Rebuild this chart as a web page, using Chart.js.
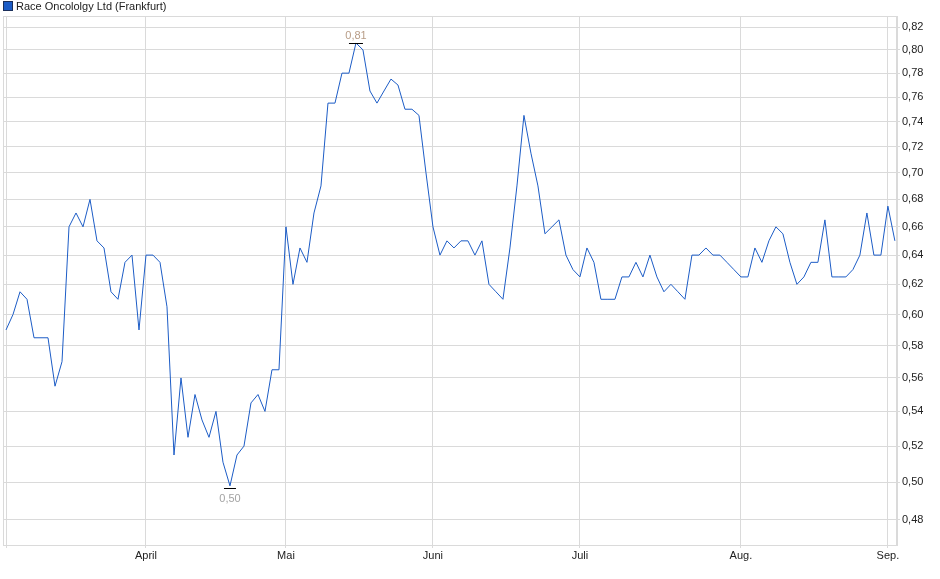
<!DOCTYPE html>
<html>
<head>
<meta charset="utf-8">
<script src="https://cdn.jsdelivr.net/npm/chart.js@4.4.1/dist/chart.umd.min.js"></script>
<style>
    html, body { margin: 0; padding: 0; background: #fff; }
    #wrap { position: relative; width: 940px; height: 579px; }
</style>
</head>
<body>
<div id="wrap"><canvas id="chart"></canvas></div>
<script>
// daily closes, one per trading day (index 0 = first day shown)
const prices = [
    0.590, 0.600, 0.615, 0.610, 0.585, 0.585, 0.585, 0.555, 0.570, 0.660,
    0.670, 0.660, 0.680, 0.650, 0.645, 0.615, 0.610, 0.635, 0.640, 0.590,
    0.640, 0.640, 0.635, 0.605, 0.515, 0.560, 0.525, 0.550, 0.535, 0.525,
    0.540, 0.511, 0.498, 0.515, 0.520, 0.545, 0.550, 0.540, 0.565, 0.565,
    0.660, 0.620, 0.645, 0.635, 0.670, 0.690, 0.755, 0.755, 0.780, 0.780,
    0.806, 0.800, 0.765, 0.755, 0.765, 0.775, 0.770, 0.750, 0.750, 0.745,
    0.700, 0.660, 0.640, 0.650, 0.645, 0.650, 0.650, 0.640, 0.650, 0.620,
    0.615, 0.610, 0.645, 0.690, 0.745, 0.715, 0.690, 0.655, 0.660, 0.665,
    0.640, 0.630, 0.625, 0.645, 0.635, 0.610, 0.610, 0.610, 0.625, 0.625,
    0.635, 0.625, 0.640, 0.625, 0.615, 0.620, 0.615, 0.610, 0.640, 0.640,
    0.645, 0.640, 0.640, 0.635, 0.630, 0.625, 0.625, 0.645, 0.635, 0.650,
    0.660, 0.655, 0.635, 0.620, 0.625, 0.635, 0.635, 0.665, 0.625, 0.625,
    0.625, 0.630, 0.640, 0.670, 0.640, 0.640, 0.675, 0.650
];

// first trading day of each month (index into prices) and its label
const monthStart = [0, 20, 40, 61, 82, 105, 126];
const monthLabels = ["", "April", "Mai", "Juni", "Juli", "Aug.", "Sep."];

const yTicks = [0.48, 0.50, 0.52, 0.54, 0.56, 0.58, 0.60, 0.62, 0.64, 0.66,
                0.68, 0.70, 0.72, 0.74, 0.76, 0.78, 0.80, 0.82];

const seriesName = "Race Oncololgy Ltd (Frankfurt)";
const lineColor = "#1c5cc6";
const gridColor = "#dadada";
const font = { family: "'Liberation Sans', Arial, sans-serif", size: 11 };

function fmt(v) {
    return v.toFixed(2).replace(".", ",");
}

// frame, legend and min/max markers
const decor = {
    id: "decor",
    beforeDatasetsDraw(chart) {
        const a = chart.chartArea, ctx = chart.ctx;
        ctx.save();
        ctx.strokeStyle = gridColor;
        ctx.lineWidth = 1;
        ctx.strokeRect(Math.round(a.left) + 0.5, Math.round(a.top) + 0.5,
            Math.round(a.right - a.left) - 1, Math.round(a.bottom - a.top));
        ctx.restore();
    },
    afterDatasetsDraw(chart) {
        const ctx = chart.ctx;
        const xs = chart.scales.x, ys = chart.scales.y;
        ctx.save();

        // legend
        ctx.fillStyle = lineColor;
        ctx.fillRect(4, 2, 8, 8);
        ctx.strokeStyle = "#1b2f5a";
        ctx.lineWidth = 1;
        ctx.strokeRect(3.5, 1.5, 9, 9);
        ctx.fillStyle = "#222";
        ctx.font = font.size + "px " + font.family;
        ctx.textBaseline = "middle";
        ctx.textAlign = "left";
        ctx.fillText(seriesName, 16, 6.5);

        // high / low markers
        let hi = 0, lo = 0;
        prices.forEach((v, i) => {
            if (v > prices[hi]) hi = i;
            if (v < prices[lo]) lo = i;
        });
        ctx.textAlign = "center";
        ctx.strokeStyle = "#000";

        let px = xs.getPixelForValue(hi), py = ys.getPixelForValue(prices[hi]);
        ctx.beginPath();
        ctx.moveTo(px - 7, Math.round(py) + 0.5);
        ctx.lineTo(px + 7, Math.round(py) + 0.5);
        ctx.stroke();
        ctx.fillStyle = "#b79c86";
        ctx.fillText(fmt(prices[hi]), px, py - 7);

        px = xs.getPixelForValue(lo); py = ys.getPixelForValue(prices[lo]);
        ctx.beginPath();
        ctx.moveTo(px - 6, Math.round(py) + 2.5);
        ctx.lineTo(px + 6, Math.round(py) + 2.5);
        ctx.stroke();
        ctx.fillStyle = "#a3a3a3";
        ctx.fillText(fmt(prices[lo]), px, py + 13);

        ctx.restore();
    }
};

new Chart(document.getElementById("chart"), {
    type: "line",
    data: {
        datasets: [{
            label: seriesName,
            data: prices.map((v, i) => ({ x: i, y: v })),
            borderColor: lineColor,
            borderWidth: 1,
            pointRadius: 0,
            tension: 0,
            fill: false
        }]
    },
    options: {
        responsive: true,
        maintainAspectRatio: false,
        animation: false,
        events: [],
        layout: { padding: { top: 16, left: 3, right: 0, bottom: 0 } },
        plugins: {
            legend: { display: false },
            tooltip: { enabled: false }
        },
        scales: {
            x: {
                type: "linear",
                min: -0.43,
                max: 127.3,
                afterBuildTicks: s => { s.ticks = monthStart.map(v => ({ value: v })); },
                afterFit: s => { s.height = 34; },
                grid: { color: gridColor, tickLength: 3 },
                border: { color: gridColor },
                ticks: {
                    autoSkip: false,
                    maxRotation: 0,
                    padding: 1,
                    color: "#222",
                    font: font,
                    callback: v => monthLabels[monthStart.indexOf(v)] || ""
                }
            },
            y: {
                type: "logarithmic",
                position: "right",
                min: 0.467,
                max: 0.830,
                afterBuildTicks: s => { s.ticks = yTicks.map(v => ({ value: v })); },
                afterFit: s => { s.width = 43; },
                grid: { color: gridColor, tickLength: 3 },
                border: { color: gridColor },
                ticks: {
                    padding: 2,
                    color: "#222",
                    font: font,
                    callback: v => fmt(v)
                }
            }
        }
    },
    plugins: [decor]
});
</script>
</body>
</html>
